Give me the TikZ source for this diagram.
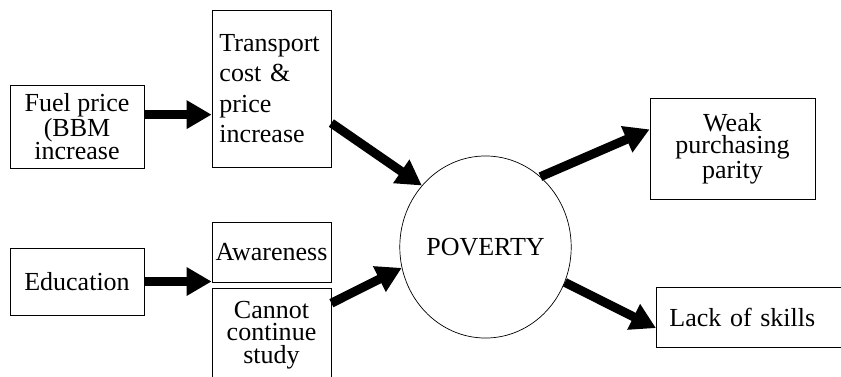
\documentclass[tikz,border=0pt]{standalone}
\usepackage{fontspec}
\setmainfont{Liberation Serif}
\usetikzlibrary{arrows.meta,shapes.geometric}

\tikzset{
  box/.style={draw, line width=0.5pt, inner sep=1pt, align=center,
    font=\fontsize{18.5}{16}\selectfont},
  bigarrow/.style={line width=6.4pt, -{Triangle[length=0.625cm,width=0.675cm]}}
}

\begin{document}
\begin{tikzpicture}[x=0.025cm, y=-0.025cm]

%page size
\useasboundingbox (0,0) rectangle (841,376);

%left boxes
\node[box, minimum width=3.35cm, minimum height=2.075cm,
  font=\fontsize{18.5}{16.5}\selectfont] (fuel) at (77,126.5) {Fuel price\\(BBM\\increase};
\node[box, text width=2.6cm, align=left, inner xsep=0.1875cm, minimum height=3.925cm,
  font=\fontsize{18.5}{21.7}\selectfont] (transport) at (271.5,88.5) {Transport\\cost \&\\price\\increase};
\node[box, minimum width=3.35cm, minimum height=1.675cm] (educ) at (77,281.5) {Education};
\node[box, minimum width=2.975cm, minimum height=1.5cm] (aware) at (271.5,252) {Awareness};
\node[box, minimum width=2.975cm, minimum height=2.35cm] (cannot) at (271.5,335) {Cannot\\continue\\study};

%centre
\node[box, ellipse, minimum width=3.875cm, minimum height=4.55cm] (poverty) at (485.5,247) {POVERTY};

%right boxes
\node[box, minimum width=4.125cm, minimum height=2.525cm] (weak) at (732.5,148.5) {Weak\\purchasing\\parity};
\node[box, anchor=west, text width=4.6cm, align=left, inner xsep=0.325cm,
  minimum height=1.5cm] (lack) at (656,317) {Lack of skills};

%draw arrows
\draw[bigarrow] (fuel.10) -- (fuel.10 -| transport.west);
\draw[bigarrow] (educ.east) -- (educ.east -| aware.west);
\draw[bigarrow] (transport.-30) -- (poverty.136);
\draw[bigarrow] (cannot.28) -- (poverty.194);
\draw[bigarrow] (poverty.52) -- (weak.167);
\draw[bigarrow] (poverty.-24) -- (lack.186);

\end{tikzpicture}
\end{document}
